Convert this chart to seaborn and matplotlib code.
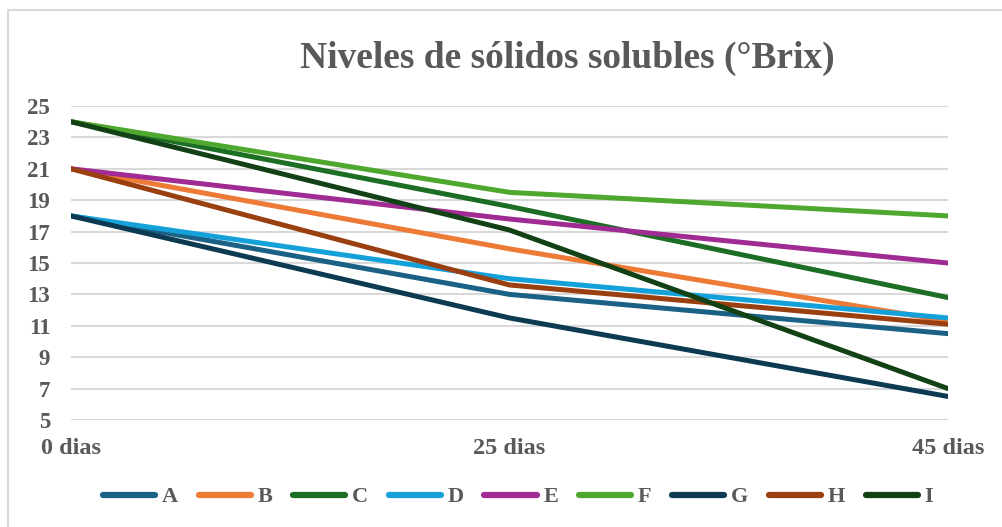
import matplotlib
matplotlib.use("Agg")
import matplotlib.pyplot as plt
from matplotlib.lines import Line2D
import seaborn as sns
import pandas as pd

# Measurement times and soluble-solids readings (°Brix) per treatment
dias = ["0 dias", "25 dias", "45 dias"]
A = [18, 13.0, 10.5]
B = [21, 15.9, 11.3]
C = [24, 18.6, 12.8]
D = [18, 14.0, 11.5]
E = [21, 17.8, 15.0]
F = [24, 19.5, 18.0]
G = [18, 11.5, 6.5]
H = [21, 13.6, 11.1]
I = [24, 17.1, 7.0]

series = {"A": A, "B": B, "C": C, "D": D, "E": E, "F": F, "G": G, "H": H, "I": I}
colores = ["#1b6185", "#ed7a35", "#1d6e25", "#14a1d9", "#a02b93",
           "#4ea72e", "#0c3a52", "#9a4010", "#124115"]
y_ticks = list(range(5, 26, 2))

rows = []
for nombre, valores in series.items():
    for d, v in zip(dias, valores):
        rows.append({"dia": d, "brix": v, "serie": nombre})
df = pd.DataFrame(rows)

sns.set_theme(style="white")
plt.rcParams["font.family"] = ["Liberation Serif", "DejaVu Serif"]
plt.rcParams["font.weight"] = "bold"

gris = "#595959"
fig = plt.figure(figsize=(10.02, 5.27), dpi=100)
ax = fig.add_axes([71 / 1002, 1 - 420 / 527, (948 - 71) / 1002, (420 - 106) / 527])

sns.lineplot(data=df, x="dia", y="brix", hue="serie", palette=colores,
             linewidth=3.6, sort=False, legend=False, ax=ax,
             solid_capstyle="round")

ax.set_xlim(0, 2)
ax.set_ylim(5, 25)
ax.set_yticks(y_ticks)
ax.set_yticklabels([str(t) for t in y_ticks])
ax.set_xticks(range(len(dias)))
ax.set_xticklabels(dias)
ax.set_xlabel("")
ax.set_ylabel("")
ax.grid(axis="y", color="#d9d9d9", linewidth=1.5)
ax.grid(axis="x", visible=False)
ax.set_axisbelow(True)
for s in ax.spines.values():
    s.set_visible(False)
ax.tick_params(axis="both", length=0, colors=gris)
ax.tick_params(axis="y", pad=15, labelsize=16.5)
ax.tick_params(axis="x", pad=13, labelsize=17.5)
for lab in ax.get_xticklabels() + ax.get_yticklabels():
    lab.set_fontweight("bold")

fig.text(567 / 1002, 1 - 58 / 527, "Niveles de sólidos solubles (°Brix)",
         ha="center", va="center", fontsize=27, fontweight="bold", color=gris)

handles = [Line2D([], [], color=c, linewidth=4.5, solid_capstyle="round")
           for c in colores]
leg = fig.legend(handles, list(series.keys()), loc="center",
                 bbox_to_anchor=(518 / 1002, 1 - 497 / 527), ncol=9,
                 frameon=False, handlelength=2.35, handletextpad=0.3,
                 columnspacing=0.93, prop={"size": 16, "weight": "bold"})
for t in leg.get_texts():
    t.set_color(gris)

# chart area frame (left and top edges)
fig.add_artist(Line2D([8 / 1002, 8 / 1002], [0, 1 - 10 / 527],
                      transform=fig.transFigure, color="#d9d9d9", linewidth=1.5))
fig.add_artist(Line2D([8 / 1002, 1], [1 - 10 / 527, 1 - 10 / 527],
                      transform=fig.transFigure, color="#d9d9d9", linewidth=1.5))

fig.savefig("out.png", dpi=100, facecolor="white")
